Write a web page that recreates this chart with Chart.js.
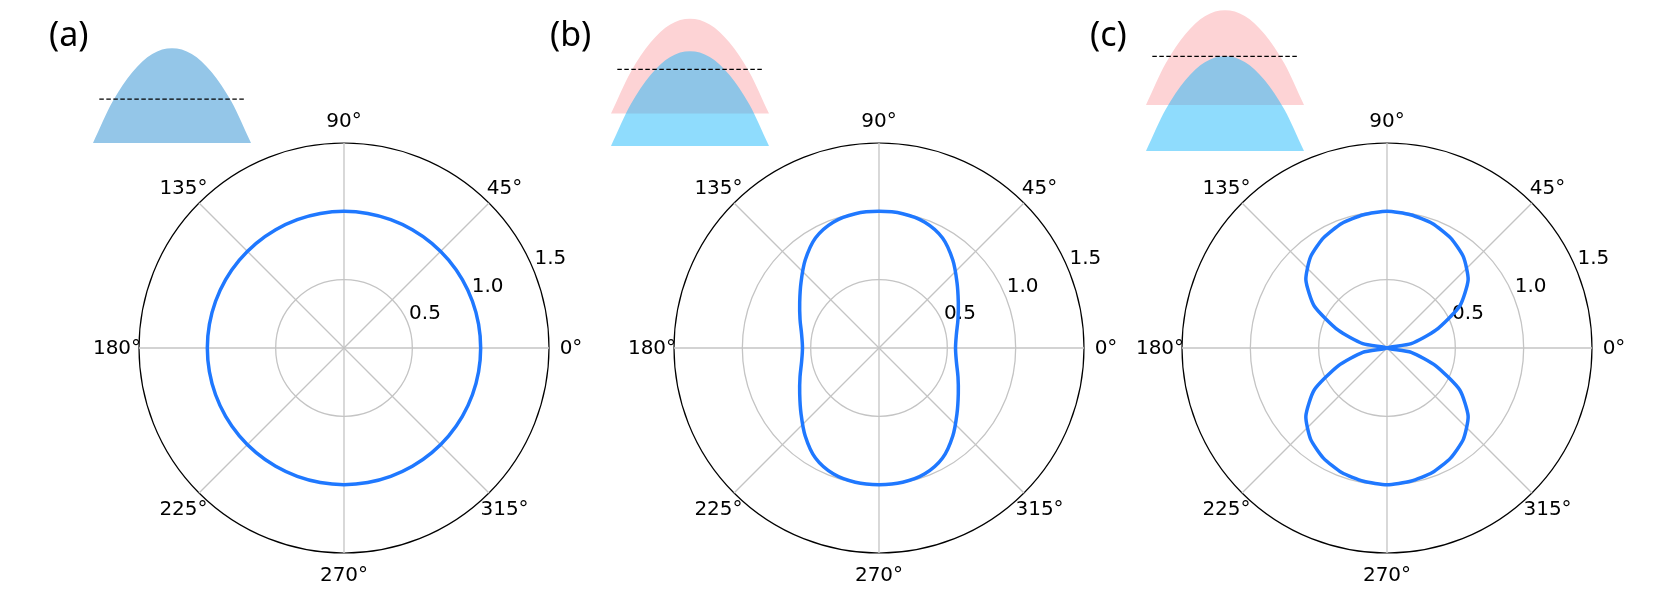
<!DOCTYPE html>
<html>
<head>
<meta charset="utf-8">
<script src="https://cdn.jsdelivr.net/npm/chart.js@4/dist/chart.umd.min.js"></script>
<style>
html,body{margin:0;padding:0;background:#fff;}
#stage{position:relative;width:1661px;height:614px;overflow:hidden;background:#fff;}
.polar{position:absolute;}
.inset{position:absolute;}
.tag{position:absolute;font-family:"Noto Sans";font-size:34px;line-height:1;color:#000;white-space:nowrap;}
</style>
</head>
<body>
<div id="stage">
  <canvas id="pa" class="polar" width="500" height="500" style="left:94px;top:98px"></canvas>
  <canvas id="pb" class="polar" width="500" height="500" style="left:629px;top:98px"></canvas>
  <canvas id="pc" class="polar" width="500" height="500" style="left:1137px;top:98px"></canvas>
  <canvas id="ia" class="inset" width="158" height="142" style="left:93px;top:1px"></canvas>
  <canvas id="ib" class="inset" width="158" height="142" style="left:611px;top:4px"></canvas>
  <canvas id="ic" class="inset" width="158" height="142" style="left:1146px;top:9px"></canvas>
  <div class="tag" style="left:49px;top:16px">(a)</div>
  <div class="tag" style="left:550px;top:16px">(b)</div>
  <div class="tag" style="left:1090px;top:16px">(c)</div>
</div>
<script>
// ---------- data ----------
const panelNames = ['(a)', '(b)', '(c)'];
const angleTickDeg = [0, 45, 90, 135, 180, 225, 270, 315];
const angleTicks = ['0°', '45°', '90°', '135°', '180°', '225°', '270°', '315°'];
const radialTicks = [0.5, 1.0, 1.5];
const radialTickLabels = ['0.5', '1.0', '1.5'];

// polar angle of each sample (degrees, counter-clockwise from 0° at right)
const thetaDeg = [0,10,20,30,40,50,60,70,80,90,100,110,120,130,140,150,160,170,
                  180,190,200,210,220,230,240,250,260,270,280,290,300,310,320,330,340,350];
// (a) circle
const rA = [1,1,1,1,1,1,1,1,1,1,1,1,1,1,1,1,1,1,
            1,1,1,1,1,1,1,1,1,1,1,1,1,1,1,1,1,1];
// (b) peanut shape
const rB = [0.56,0.575,0.615,0.67,0.745,0.84,0.93,0.98,0.998,1.0,0.998,0.98,0.93,0.84,0.745,0.67,0.615,0.575,
            0.56,0.575,0.615,0.67,0.745,0.84,0.93,0.98,0.998,1.0,0.998,0.98,0.93,0.84,0.745,0.67,0.615,0.575];
// (c) figure eight
const rC = [0,0.18,0.38,0.615,0.775,0.87,0.93,0.97,0.99,1.0,0.99,0.97,0.93,0.87,0.775,0.615,0.38,0.18,
            0,0.18,0.38,0.615,0.775,0.87,0.93,0.97,0.99,1.0,0.99,0.97,0.93,0.87,0.775,0.615,0.38,0.18];

// inset humps (x across the hump, height relative to hump height)
const humpX = [-1, -0.75, -0.5, -0.25, 0, 0.25, 0.5, 0.75, 1];
const humpH = [0, 0.44, 0.75, 0.94, 1, 0.94, 0.75, 0.44, 0];
const upperBase = [null, 0.343, 0.486];   // base of pink hump (null = none)
const dashLevel = [0.463, 0.81, 1.0];     // dashed line height
const dashX = [-0.92, 0.91];

// ---------- styling ----------
const STEP = 5;                 // angular slot size of the radial scale
const NSLOT = 360 / STEP;
const GRID = '#c4c4c4';
const CURVE = '#1f78ff';
const TENSION = [0.33, 0.33, 0.2];

function slotTheta(i) { return ((90 - i * STEP) % 360 + 360) % 360; }
function slotData(r) {
  const out = [];
  for (let i = 0; i < NSLOT; i++) {
    const th = slotTheta(i);
    const k = thetaDeg.indexOf(th);
    out.push(k >= 0 ? r[k] : null);
  }
  return out;
}
const slotLabels = Array.from({length: NSLOT}, (_, i) => slotTheta(i) + '°');

const polarLabels = {
  id: 'polarLabels',
  beforeDatasetsDraw(chart) {
    const s = chart.scales.r;
    const ctx = chart.ctx;
    ctx.save();
    ctx.fillStyle = '#000';
    ctx.font = '20px "DejaVu Sans"';
    ctx.textAlign = 'center';
    ctx.textBaseline = 'middle';
    angleTickDeg.forEach((deg, k) => {
      const slot = (((90 - deg) % 360 + 360) % 360) / STEP;
      const p = s.getPointPosition(slot, s.drawingArea + 22);
      ctx.fillText(angleTicks[k], p.x, p.y + 1);
    });
    const a = 23.5 * Math.PI / 180;
    radialTicks.forEach((v, k) => {
      const d = s.getDistanceFromCenterForValue(v) + 20;
      ctx.fillText(radialTickLabels[k], s.xCenter + d * Math.cos(a), s.yCenter - d * Math.sin(a) + 1);
    });
    ctx.restore();
  }
};

function makePolar(id, r, tension) {
  new Chart(document.getElementById(id), {
    type: 'radar',
    data: {
      labels: slotLabels,
      datasets: [{
        data: slotData(r),
        borderColor: CURVE,
        borderWidth: 3.5,
        backgroundColor: 'rgba(0,0,0,0)',
        fill: false,
        spanGaps: true,
        tension: tension,
        pointRadius: 0,
        pointHoverRadius: 0
      }]
    },
    options: {
      responsive: false,
      animation: false,
      events: [],
      layout: {padding: 45},
      plugins: {legend: {display: false}, tooltip: {enabled: false}},
      scales: {
        r: {
          min: 0, max: 1.5,
          ticks: {display: false, stepSize: 0.5},
          pointLabels: {display: false},
          grid: {
            circular: true,
            color: c => (c.tick && c.tick.value >= 1.49) ? '#000' : GRID,
            lineWidth: c => (c.tick && c.tick.value >= 1.49) ? 1.2 : 1.3
          },
          angleLines: {
            display: true,
            color: GRID,
            lineWidth: c => (c.index % (45 / STEP) === 0) ? 1.3 : 0
          }
        }
      }
    },
    plugins: [polarLabels]
  });
}

function makeInset(id, p) {
  const datasets = [];
  datasets.push({
    data: [{x: dashX[0], y: dashLevel[p]}, {x: dashX[1], y: dashLevel[p]}],
    borderColor: '#000', borderWidth: 1.3, borderDash: [4.5, 2.5],
    pointRadius: 0, fill: false, order: 0
  });
  if (upperBase[p] === null) {
    datasets.push({
      data: humpX.map((x, i) => ({x, y: humpH[i]})),
      borderWidth: 0, backgroundColor: '#94c6e8',
      fill: {value: 0}, pointRadius: 0, cubicInterpolationMode: 'monotone', order: 1
    });
  } else {
    datasets.push({
      data: humpX.map((x, i) => ({x, y: humpH[i]})),
      borderWidth: 0, backgroundColor: 'rgba(17,181,251,0.47)',
      fill: {value: 0}, pointRadius: 0, cubicInterpolationMode: 'monotone', order: 1
    });
    datasets.push({
      data: humpX.map((x, i) => ({x, y: humpH[i] + upperBase[p]})),
      borderWidth: 0, backgroundColor: '#fdd3d5',
      fill: {value: upperBase[p]}, pointRadius: 0, cubicInterpolationMode: 'monotone', order: 2
    });
  }
  new Chart(document.getElementById(id), {
    type: 'line',
    data: {datasets},
    options: {
      responsive: false,
      animation: false,
      events: [],
      layout: {padding: 0},
      plugins: {legend: {display: false}, tooltip: {enabled: false}},
      scales: {
        x: {type: 'linear', min: -1, max: 1, display: false},
        y: {type: 'linear', min: 0, max: 1.5, display: false}
      }
    }
  });
}

makePolar('pa', rA, TENSION[0]);
makePolar('pb', rB, TENSION[1]);
makePolar('pc', rC, TENSION[2]);
makeInset('ia', 0);
makeInset('ib', 1);
makeInset('ic', 2);
</script>
</body>
</html>
